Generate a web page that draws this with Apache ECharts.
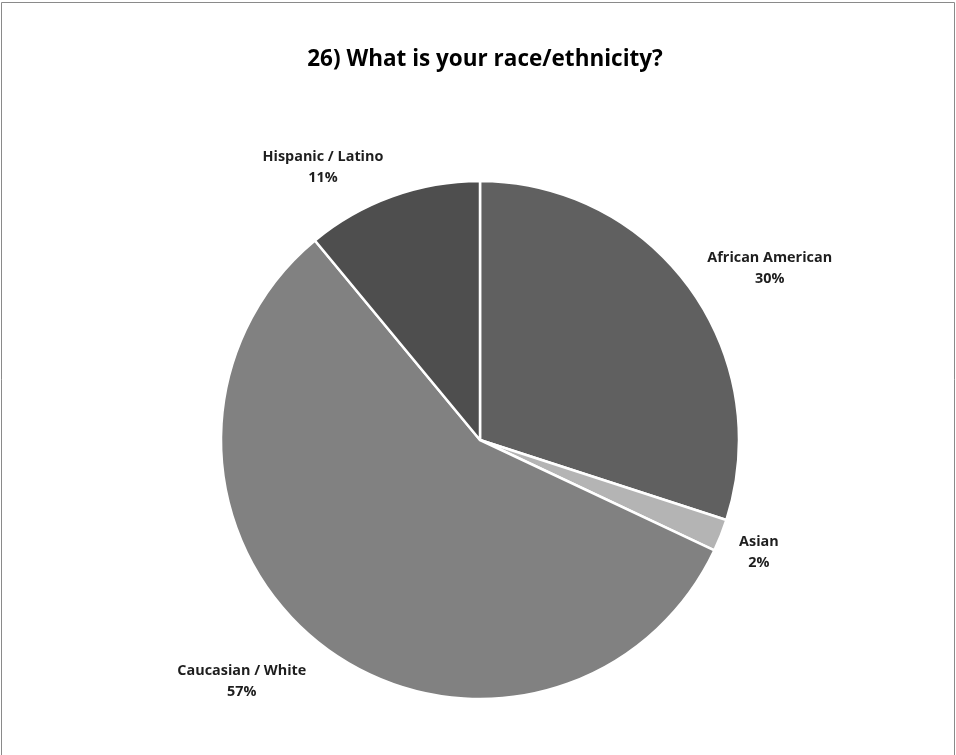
<!DOCTYPE html>
<html>
<head>
<meta charset="utf-8">
<script src="https://cdn.jsdelivr.net/npm/echarts@6/dist/echarts.min.js"></script>
<style>
  html, body { margin: 0; padding: 0; background: #fff; }
  #chart { width: 956px; height: 755px; }
</style>
</head>
<body>
<div id="chart"></div>
<script>
// Survey question 26: share of respondents by race / ethnicity
const categories = ['African American', 'Asian', 'Caucasian / White', 'Hispanic / Latino'];
const shares = [30, 2, 57, 11];
const sliceColors = ['#606060', '#b4b4b4', '#818181', '#4e4e4e'];

// pie geometry (px)
const CX = 480, CY = 440, R = 259;
// label placement per slice: [angle shift in degrees, distance from centre]
const labelPlacement = [[5, 338], [0, 300], [7, 338], [-10, 316]];

const total = shares.reduce((a, b) => a + b, 0);
const midAngles = [];
let acc = 0;
shares.forEach(v => {
  midAngles.push((acc + v / 2) / total * 360);
  acc += v;
});

const chart = echarts.init(document.getElementById('chart'), null, { renderer: 'canvas' });

chart.setOption({
  backgroundColor: '#ffffff',
  animation: false,
  title: {
    text: '26) What is your race/ethnicity?',
    left: 480,
    textAlign: 'center',
    top: 43,
    textStyle: {
      fontFamily: 'Open Sans',
      fontWeight: 'bold',
      fontSize: 22.5,
      color: '#000000'
    }
  },
  graphic: [{
    type: 'rect',
    shape: { x: 1.5, y: 2.5, width: 953, height: 800 },
    style: { fill: 'none', stroke: '#8a8a8a', lineWidth: 1 },
    silent: true
  }],
  series: [{
    type: 'pie',
    center: [CX, CY],
    radius: [0, R],
    startAngle: 90,
    clockwise: true,
    data: categories.map((name, i) => ({
      name,
      value: shares[i],
      itemStyle: { color: sliceColors[i] }
    })),
    itemStyle: { borderColor: '#ffffff', borderWidth: 2.5 },
    label: {
      show: true,
      position: 'outside',
      formatter: p => p.name + '\n' + p.value + '%',
      fontFamily: 'Open Sans',
      fontWeight: 'bold',
      fontSize: 14.4,
      lineHeight: 21,
      color: '#1e1e1e',
      align: 'center'
    },
    labelLine: { show: false },
    labelLayout: params => {
      const i = params.dataIndex;
      const a = (midAngles[i] + labelPlacement[i][0]) * Math.PI / 180;
      const d = labelPlacement[i][1];
      return {
        x: CX + d * Math.sin(a),
        y: CY - d * Math.cos(a) + 2,
        align: 'center',
        verticalAlign: 'middle'
      };
    },
    emphasis: { disabled: true }
  }]
});
</script>
</body>
</html>
